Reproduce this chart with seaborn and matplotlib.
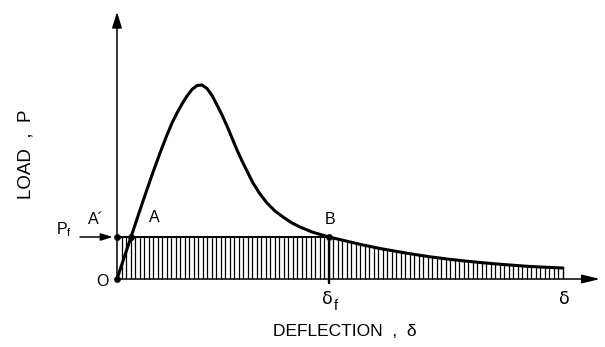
import numpy as np
import pandas as pd
import matplotlib
matplotlib.use("Agg")
import matplotlib.pyplot as plt
import seaborn as sns

# Load-deflection curve (deflection, load) in arbitrary units
deflection = [0.0, 1.4, 2.5, 3.5, 4.3, 5.0, 5.5, 6.0, 6.5, 7.0, 7.5, 8.0,
              8.5, 9.0, 9.5, 10.0, 10.5, 11.0, 11.5, 12.0, 12.6, 13.2, 13.6,
              14.3, 15.0, 15.8, 16.6, 17.5, 18.3, 19.5, 21.2, 22.9, 24.6,
              26.3, 28.0, 29.6, 31.3, 33.0, 34.6, 36.3, 38.0, 39.7, 41.3,
              43.0, 44.6]
load = [0.0, 4.2, 7.5, 10.4, 12.6, 14.4, 15.6, 16.6, 17.5, 18.3, 18.95, 19.35,
        19.4, 19.05, 18.35, 17.4, 16.4, 15.3, 14.1, 12.9, 11.6, 10.4, 9.6,
        8.5, 7.6, 6.8, 6.2, 5.6, 5.2, 4.7, 4.2, 3.8, 3.4, 3.05, 2.75, 2.48,
        2.22, 2.0, 1.82, 1.65, 1.5, 1.37, 1.25, 1.17, 1.1]

# Key levels
p_f = 4.2          # load level P_f (points A', A, B)
delta_a = 1.4      # deflection at A
delta_f = 21.2     # deflection at B
delta_end = 44.6   # final deflection

df = pd.DataFrame({"deflection": deflection, "load": load})

sns.set_theme(style="white")
plt.rcParams["font.family"] = ["Liberation Sans", "DejaVu Sans"]

fig = plt.figure(figsize=(6.05, 3.47), dpi=100)
ax = fig.add_axes([0, 0, 1, 1])
ax.set_xlim(-11.7, 48.8)
ax.set_ylim(-6.8, 27.9)
ax.axis("off")

ink = "black"

# Hatched work area: up to P_f before delta_f, under the curve after it
hx = np.arange(0.45, delta_end, 0.45)
hx = np.append(hx, delta_end)
curve_at = np.interp(hx, deflection, load)
top = np.where(hx <= delta_f, p_f, curve_at)
ax.vlines(hx, 0, top, color=ink, lw=0.9, zorder=1)
ax.plot([0, delta_f], [p_f, p_f], color=ink, lw=1.4, zorder=2)

# delta_f marker line
ax.plot([delta_f, delta_f], [-0.4, p_f], color=ink, lw=1.7, zorder=2)

# Axes with arrowheads
ax.annotate("", xy=(0, 26.7), xytext=(0, 0),
            arrowprops=dict(arrowstyle="-|>,head_width=0.25,head_length=0.8",
                            color=ink, lw=1.1, shrinkA=0, shrinkB=0))
ax.annotate("", xy=(48.3, 0), xytext=(0, 0),
            arrowprops=dict(arrowstyle="-|>,head_width=0.22,head_length=0.9",
                            color=ink, lw=1.1, shrinkA=0, shrinkB=0))

# Load-deflection curve
sns.lineplot(data=df, x="deflection", y="load", ax=ax, color=ink,
             lw=2.2, sort=False, zorder=3)

# Marked points O, A', A, B
pts = pd.DataFrame({"x": [0, 0, delta_a, delta_f], "y": [0, p_f, p_f, p_f]})
sns.scatterplot(data=pts, x="x", y="y", ax=ax, color=ink, s=20,
                edgecolor=ink, zorder=4)

# P_f arrow
ax.annotate("", xy=(-0.4, p_f), xytext=(-3.7, p_f),
            arrowprops=dict(arrowstyle="-|>,head_width=0.18,head_length=0.6",
                            color=ink, lw=1.1, shrinkA=0, shrinkB=0))

fs = 11.5
ax.text(-1.5, -0.3, "O", fontsize=fs, ha="center", va="center", color=ink)
ax.text(-5.3, p_f + 0.7, r"P$_\mathregular{f}$", fontsize=fs,
        ha="center", va="center", color=ink)
ax.text(-2.1, 5.9, "A\u00b4", fontsize=fs, ha="center", va="center",
        color=ink)
ax.text(3.7, 6.1, "A", fontsize=fs, ha="center", va="center", color=ink)
ax.text(21.3, 5.9, "B", fontsize=fs, ha="center", va="center", color=ink)
ax.text(21.0, -2.0, "\u03b4", fontsize=fs + 1, ha="center", va="center",
        family=["DejaVu Sans"], color=ink)
ax.text(21.9, -2.7, "f", fontsize=fs - 1, ha="center", va="center",
        color=ink)
ax.text(44.7, -2.0, "\u03b4", fontsize=fs + 1, ha="center", va="center",
        family=["DejaVu Sans"], color=ink)

ax.text(22.8, -5.2, "DEFLECTION  ,  \u03b4", fontsize=12.5,
        ha="center", va="center", color=ink)
ax.text(-9.1, 12.5, "LOAD  ,  P", fontsize=13.5, ha="center",
        va="center", rotation=90, color=ink)

fig.savefig("out.png", dpi=100)
